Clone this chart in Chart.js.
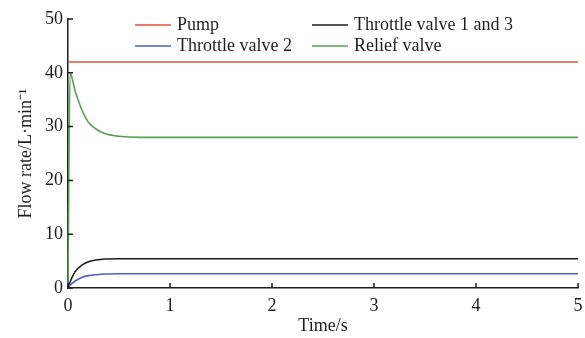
<!DOCTYPE html>
<html>
<head>
<meta charset="utf-8">
<script src="https://cdn.jsdelivr.net/npm/chart.js@4/dist/chart.umd.min.js"></script>
<style>
  html, body { margin: 0; padding: 0; background: #fff; }
  #wrap { width: 585px; height: 338px; }
</style>
</head>
<body>
<div id="wrap"><canvas id="graphic"></canvas></div>
<script>
// sample times (s) shared by every series
const time = [0, 0.02, 0.07, 0.14, 0.2, 0.27, 0.36, 0.5, 0.7, 1, 2, 3, 4, 5];

// flow rates (L/min)
const pump     = [42, 42, 42, 42, 42, 42, 42, 42, 42, 42, 42, 42, 42, 42];
const valve2   = [0, 0.5, 1.3, 2.0, 2.3, 2.45, 2.6, 2.65, 2.65, 2.65, 2.65, 2.65, 2.65, 2.65];
const valve13  = [0, 1.1, 3.05, 4.3, 4.9, 5.2, 5.4, 5.45, 5.45, 5.45, 5.45, 5.45, 5.45, 5.45];
const relief   = [0, 40, 36.6, 32.9, 30.8, 29.6, 28.7, 28.2, 28, 28, 28, 28, 28, 28];

const xTicks = [0, 1, 2, 3, 4, 5];
const yTicks = [0, 10, 20, 30, 40, 50];

const serif = 'Liberation Serif, Times New Roman, serif';
const ink = '#1e1e1e';

function series(label, values, color) {
	return {
		label: label,
		data: values.map((v, i) => ({ x: time[i], y: v })),
		borderColor: color,
		backgroundColor: color,
		borderWidth: 1.6,
		pointRadius: 0,
		cubicInterpolationMode: 'monotone',
		clip: false,
	};
}

// small inward tick marks on both axes
const innerTicks = {
	id: 'innerTicks',
	afterDraw(chart) {
		const ctx = chart.ctx;
		const { left, bottom } = chart.chartArea;
		const xs = chart.scales.x, ys = chart.scales.y;
		ctx.save();
		ctx.strokeStyle = ink;
		ctx.lineWidth = 1.5;
		ctx.beginPath();
		xTicks.forEach(t => {
			const px = xs.getPixelForValue(t);
			ctx.moveTo(px, bottom);
			ctx.lineTo(px, bottom - 5);
		});
		yTicks.forEach(t => {
			const py = ys.getPixelForValue(t);
			ctx.moveTo(left, py);
			ctx.lineTo(left + 5, py);
		});
		ctx.stroke();
		ctx.restore();
	}
};

// two-column legend inside the plot
const legendBox = {
	id: 'legendBox',
	afterDraw(chart) {
		const ctx = chart.ctx;
		const cols = [135, 312];
		const rows = [25, 46];
		ctx.save();
		ctx.font = '18px ' + serif;
		ctx.textBaseline = 'middle';
		ctx.fillStyle = ink;
		chart.data.datasets.forEach((ds, i) => {
			const x = cols[Math.floor(i / 2)];
			const y = rows[i % 2];
			ctx.strokeStyle = ds.borderColor;
			ctx.lineWidth = 1.6;
			ctx.beginPath();
			ctx.moveTo(x, y);
			ctx.lineTo(x + 36, y);
			ctx.stroke();
			ctx.fillText(ds.label, x + 42, y);
		});
		ctx.restore();
	}
};

new Chart(graphic, {
	type: 'line',
	data: {
		datasets: [
			series('Pump', pump, 'rgb(228,82,62)'),
			series('Throttle valve 2', valve2, 'rgb(82,92,196)'),
			series('Throttle valve 1 and 3', valve13, 'rgb(30,30,30)'),
			series('Relief valve', relief, 'rgb(88,160,82)'),
		]
	},
	options: {
		responsive: true,
		maintainAspectRatio: false,
		animation: false,
		layout: { padding: { top: 19, right: 7, left: 0, bottom: 0 } },
		plugins: {
			legend: { display: false },
			tooltip: { enabled: false },
		},
		scales: {
			x: {
				type: 'linear',
				min: 0,
				max: 5,
				afterBuildTicks: s => { s.ticks = xTicks.map(v => ({ value: v })); },
				afterFit: s => { s.height = 50; s.paddingLeft = 0; s.paddingRight = 0; },
				grid: { display: false, drawTicks: false },
				border: { display: true, color: ink, width: 1.5 },
				ticks: { color: ink, font: { family: serif, size: 18 }, padding: 7, maxRotation: 0 },
				title: {
					display: true,
					text: 'Time/s',
					color: ink,
					font: { family: serif, size: 18 },
					padding: { top: 0, bottom: 1 },
				},
			},
			y: {
				min: 0,
				max: 50,
				afterBuildTicks: s => { s.ticks = yTicks.map(v => ({ value: v })); },
				afterFit: s => { s.width = 68; },
				grid: { display: false, drawTicks: false },
				border: { display: true, color: ink, width: 1.5 },
				ticks: { color: ink, font: { family: serif, size: 18 }, padding: 5 },
				title: {
					display: true,
					text: 'Flow rate/L·min⁻¹',
					color: ink,
					font: { family: serif, size: 18 },
					padding: { top: 15, bottom: 0 },
				},
			},
		},
	},
	plugins: [innerTicks, legendBox],
});
</script>
</body>
</html>
